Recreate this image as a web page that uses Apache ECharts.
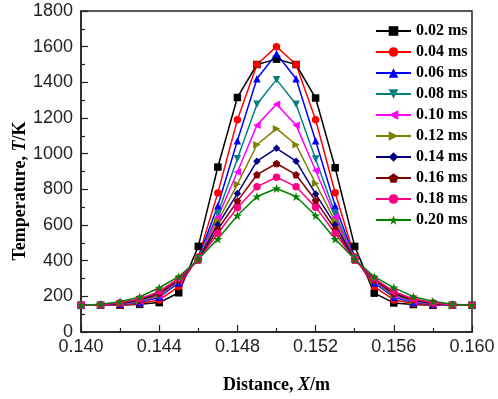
<!DOCTYPE html>
<html>
<head>
<meta charset="utf-8">
<script src="https://cdn.jsdelivr.net/npm/echarts@6/dist/echarts.min.js"></script>
<style>
  html, body { margin: 0; padding: 0; background: #fff; }
  #chart { width: 498px; height: 399px; }
</style>
</head>
<body>
<div id="chart"></div>
<script>
// distance positions (m)
const distances = [0.140, 0.141, 0.142, 0.143, 0.144, 0.145, 0.146, 0.147, 0.148, 0.149, 0.150,
                   0.151, 0.152, 0.153, 0.154, 0.155, 0.156, 0.157, 0.158, 0.159, 0.160]
const seriesNames = ['0.02 ms', '0.04 ms', '0.06 ms', '0.08 ms', '0.10 ms',
                     '0.12 ms', '0.14 ms', '0.16 ms', '0.18 ms', '0.20 ms']

// temperature (K) per time step
const t002 = [150, 150, 150, 155, 165, 220, 480, 925, 1315, 1500, 1530, 1500, 1312, 921, 480, 218, 163, 154, 150, 150, 150]
const t004 = [150, 150, 152, 160, 180, 255, 420, 780, 1190, 1500, 1600, 1500, 1190, 781, 420, 255, 180, 160, 152, 150, 150]
const t006 = [150, 150, 155, 165, 195, 275, 415, 708, 1072, 1420, 1560, 1420, 1072, 708, 415, 275, 195, 165, 155, 150, 150]
const t008 = [150, 150, 155, 168, 200, 280, 412, 665, 972, 1277, 1415, 1277, 970, 665, 412, 280, 200, 168, 155, 150, 150]
const t010 = [150, 150, 156, 172, 205, 285, 410, 645, 897, 1160, 1277, 1160, 906, 645, 410, 285, 205, 172, 156, 150, 150]
const t012 = [150, 150, 158, 175, 210, 290, 408, 622, 828, 1050, 1140, 1050, 833, 622, 408, 290, 210, 175, 158, 150, 150]
const t014 = [150, 150, 160, 178, 215, 292, 406, 602, 776, 958, 1030, 958, 774, 602, 406, 292, 215, 178, 160, 150, 150]
const t016 = [150, 151, 162, 182, 220, 295, 404, 576, 734, 882, 945, 882, 737, 576, 404, 295, 220, 182, 162, 151, 150]
const t018 = [150, 152, 164, 186, 228, 300, 402, 554, 697, 815, 868, 815, 700, 554, 402, 300, 228, 186, 164, 152, 150]
const t020 = [150, 155, 170, 196, 248, 310, 408, 521, 653, 760, 805, 760, 653, 521, 408, 310, 249, 198, 172, 155, 150]

const temps = [t002, t004, t006, t008, t010, t012, t014, t016, t018, t020]
const colors = ['#000000', '#FF0000', '#0000FF', '#008080', '#FF00FF',
                '#808000', '#000080', '#800000', '#FF0080', '#008000']
const STAR = 'path://M5,0 L6.2,3.6 L10,3.6 L6.9,5.9 L8.1,9.5 L5,7.3 L1.9,9.5 L3.1,5.9 L0,3.6 L3.8,3.6 Z'
const symbols = [
    'rect',
    'circle',
    'triangle',
    'path://M0,0 L10,0 L5,10 Z',   // down
    'path://M10,0 L10,10 L0,5 Z',  // left
    'path://M0,0 L0,10 L10,5 Z',   // right
    'diamond',
    'path://M5,0 L10,3.8 L8.1,10 L1.9,10 L0,3.8 Z', // pentagon
    'circle',
    STAR
]

const chart = echarts.init(document.getElementById('chart'))

const series = seriesNames.map((name, i) => ({
    name: name,
    type: 'line',
    data: distances.map((x, j) => [x, temps[i][j]]),
    symbol: symbols[i],
    symbolSize: symbols[i] === STAR ? 9 : 7.5,
    color: colors[i],
    lineStyle: { width: 1.5, color: colors[i] },
    itemStyle: { color: colors[i] },
    animation: false
}))

chart.setOption({
    animation: false,
    grid: {
        left: 81, right: 26, top: 11, bottom: 61,
        show: true,
        borderColor: '#222',
        borderWidth: 1.5
    },
    legend: {
        orient: 'vertical',
        left: 370,
        top: 18,
        itemWidth: 35,
        itemHeight: 12,
        itemGap: 5,
        data: seriesNames,
        textStyle: {
            fontFamily: 'Liberation Serif',
            fontWeight: 'bold',
            fontSize: 16,
            color: '#000',
            lineHeight: 16
        }
    },
    xAxis: {
        type: 'value',
        min: 0.140,
        max: 0.160,
        interval: 0.004,
        name: 'Distance, {i|X}/m',
        nameLocation: 'middle',
        nameGap: 44,
        nameTextStyle: {
            fontFamily: 'Liberation Serif',
            fontWeight: 'bold',
            fontSize: 18,
            color: '#000',
            rich: {
                i: { fontFamily: 'Liberation Serif', fontWeight: 'bold', fontStyle: 'italic', fontSize: 18, color: '#000' }
            }
        },
        axisLine: { lineStyle: { color: '#222', width: 1.5 } },
        axisTick: { inside: true, length: 7, lineStyle: { color: '#222', width: 1.2 } },
        minorTick: { show: true, splitNumber: 2, length: 4, lineStyle: { color: '#222', width: 1.2 } },
        splitLine: { show: false },
        axisLabel: {
            margin: 6,
            fontFamily: 'Liberation Sans',
            fontSize: 18,
            color: '#222',
            formatter: v => v.toFixed(3)
        }
    },
    yAxis: {
        type: 'value',
        min: 0,
        max: 1800,
        interval: 200,
        axisLine: { show: true, lineStyle: { color: '#222', width: 1.5 } },
        axisTick: { show: true, inside: true, length: 7, lineStyle: { color: '#222', width: 1.2 } },
        minorTick: { show: true, splitNumber: 2, length: 4, lineStyle: { color: '#222', width: 1.2 } },
        splitLine: { show: false },
        axisLabel: {
            margin: 8,
            fontFamily: 'Liberation Sans',
            fontSize: 18,
            color: '#222',
            formatter: v => String(v)
        }
    },
    graphic: [{
        type: 'text',
        x: 20,
        y: 191,
        rotation: Math.PI / 2,
        style: {
            text: 'Temperature, {i|T}/K',
            fontFamily: 'Liberation Serif',
            fontWeight: 'bold',
            fontSize: 18,
            fill: '#000',
            align: 'center',
            verticalAlign: 'middle',
            rich: {
                i: { fontFamily: 'Liberation Serif', fontWeight: 'bold', fontStyle: 'italic', fontSize: 18, fill: '#000' }
            }
        }
    }],
    series: series
})
</script>
</body>
</html>
